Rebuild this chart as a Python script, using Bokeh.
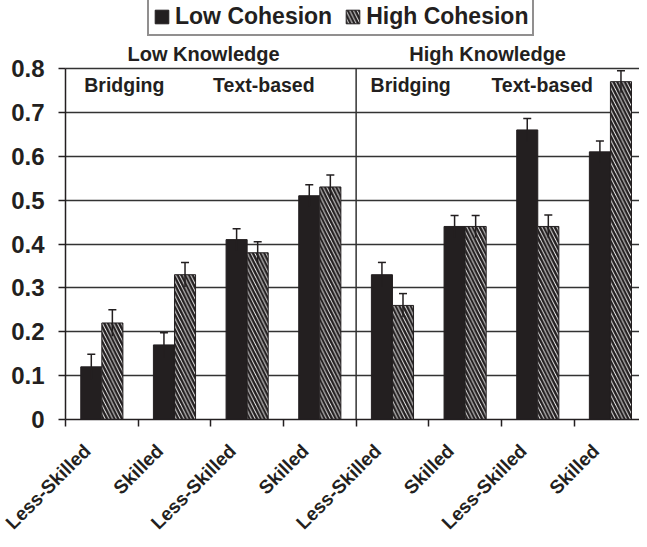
import math
from bokeh.plotting import figure
from bokeh.models import (ColumnDataSource, FixedTicker, Whisker, TeeHead,
                          Legend, LegendItem, LabelSet)
from bokeh.core.properties import value
from bokeh.embed import file_html
from bokeh.resources import INLINE

# ---------------- data ----------------
groups = ["Less-Skilled", "Skilled", "Less-Skilled", "Skilled",
          "Less-Skilled", "Skilled", "Less-Skilled", "Skilled"]
low_cohesion = [0.12, 0.17, 0.41, 0.51, 0.33, 0.44, 0.66, 0.61]
high_cohesion = [0.22, 0.33, 0.38, 0.53, 0.26, 0.44, 0.44, 0.77]
low_err = [0.029, 0.028, 0.025, 0.025, 0.028, 0.025, 0.026, 0.025]
high_err = [0.030, 0.028, 0.025, 0.027, 0.027, 0.025, 0.026, 0.025]
knowledge_labels = ["Low Knowledge", "High Knowledge"]
question_labels = ["Bridging", "Text-based", "Bridging", "Text-based"]
series_names = ["Low Cohesion", "High Cohesion"]
y_ticks = [0, 0.1, 0.2, 0.3, 0.4, 0.5, 0.6, 0.7, 0.8]
y_tick_labels = ["0", "0.1", "0.2", "0.3", "0.4", "0.5", "0.6", "0.7", "0.8"]

# ---------------- layout / style ----------------
INK = "#231f20"
FONT = "Liberation Sans"
BAR_W = 0.29
n = len(groups)
centers = [i + 0.5 for i in range(n)]
boundaries = list(range(n))
X_START = -0.8946     # room for the y axis labels inside the frame
Y_START = -0.2735     # room for the rotated category labels inside the frame
Y_END = 0.955

low_src = ColumnDataSource(dict(
    x=[c - BAR_W / 2 for c in centers], top=low_cohesion,
    up=[v + e for v, e in zip(low_cohesion, low_err)],
    lo=[v - e for v, e in zip(low_cohesion, low_err)]))
high_src = ColumnDataSource(dict(
    x=[c + BAR_W / 2 for c in centers], top=high_cohesion,
    up=[v + e for v, e in zip(high_cohesion, high_err)],
    lo=[v - e for v, e in zip(high_cohesion, high_err)]))
label_src = ColumnDataSource(dict(
    x=[c - 0.20 for c in centers], y=[-0.064] * n, text=groups))

p = figure(width=639, height=539, output_backend="svg", toolbar_location=None,
           x_range=(X_START, 7.9), y_range=(Y_START, Y_END),
           min_border_left=0, min_border_right=0, min_border_top=0,
           min_border_bottom=0)
p.outline_line_color = None
p.background_fill_color = "white"
p.border_fill_color = "white"

# grid
p.xgrid.visible = False
yg = p.ygrid[0]
yg.ticker = FixedTicker(ticks=y_ticks[1:])
yg.grid_line_color = "#333333"
yg.grid_line_width = 1.5
try:
    yg.cross_bounds = (0, 7.9)
    need_mask = False
except AttributeError:
    need_mask = True
if need_mask:
    p.quad(left=[X_START], right=[0], bottom=[0], top=[Y_END],
           fill_color="white", line_color=None)

# divider between knowledge groups
p.segment(x0=[n / 2], y0=[0], x1=[n / 2], y1=[y_ticks[-1]],
          line_color="#333333", line_width=1.5)

r_low = p.vbar(x="x", top="top", bottom=0, width=BAR_W, source=low_src,
               fill_color=INK, line_color=INK, line_width=1)
r_high = p.vbar(x="x", top="top", bottom=0, width=BAR_W, source=high_src,
                fill_color="white", line_color=INK, line_width=1,
                hatch_pattern="\\", hatch_color=INK, hatch_weight=2.5,
                hatch_scale=7.5)

for src in (low_src, high_src):
    w = Whisker(base="x", upper="up", lower="lo", source=src,
                line_color=INK, line_width=1.5, level="overlay",
                upper_head=TeeHead(size=8, line_color=INK, line_width=1.5),
                lower_head=None)
    p.add_layout(w)

# y axis, drawn at x = 0
ya = p.yaxis[0]
ya.fixed_location = 0
ya.ticker = FixedTicker(ticks=y_ticks)
ya.major_label_overrides = {t: l for t, l in zip(y_ticks, y_tick_labels)}
ya.bounds = (y_ticks[0], y_ticks[-1])
ya.axis_line_color = INK
ya.axis_line_width = 1.5
ya.major_tick_line_color = INK
ya.major_tick_line_width = 1.5
ya.major_tick_out = 7
ya.major_tick_in = 0
ya.minor_tick_line_color = None
ya.major_label_text_font = FONT
ya.major_label_text_font_style = "bold"
ya.major_label_text_font_size = "24px"
ya.major_label_text_color = INK
ya.major_label_standoff = 14

# x axis drawn at y = 0, ticks at category boundaries
xa = p.xaxis[0]
xa.fixed_location = 0
xa.ticker = FixedTicker(ticks=[], minor_ticks=boundaries)
xa.bounds = (0, 7.9)
xa.axis_line_color = INK
xa.axis_line_width = 1.5
xa.major_tick_line_color = None
xa.minor_tick_line_color = INK
xa.minor_tick_line_width = 1.5
xa.minor_tick_out = 7
xa.minor_tick_in = 0

labels = LabelSet(x="x", y="y", text="text", source=label_src,
                  angle=math.pi / 4, text_align="right",
                  text_baseline="middle", text_font=value(FONT),
                  text_font_style="bold", text_font_size="19px",
                  text_color=INK)
p.add_layout(labels)

# headers
p.text(x=[1.90, 5.81], y=[0.834, 0.834], text=knowledge_labels,
       text_font=value(FONT), text_font_style="bold", text_font_size="20px",
       text_color=INK, text_align="center", text_baseline="middle")
p.text(x=[0.81, 2.73, 4.75, 6.56], y=[0.763] * 4, text=question_labels,
       text_font=value(FONT), text_font_style="bold", text_font_size="19.5px",
       text_color=INK, text_align="center", text_baseline="middle")

# legend
legend = Legend(items=[LegendItem(label=series_names[0], renderers=[r_low]),
                       LegendItem(label=series_names[1], renderers=[r_high])],
                orientation="horizontal", location=(147, 503),
                border_line_color=INK, border_line_width=2,
                background_fill_color="white", background_fill_alpha=1,
                label_text_font=FONT, label_text_font_style="bold",
                label_text_font_size="23px", label_text_color=INK,
                glyph_width=17, glyph_height=17, spacing=12, padding=4,
                margin=0, label_standoff=5)
p.add_layout(legend)

open("out.html", "w").write(file_html(p, INLINE))
